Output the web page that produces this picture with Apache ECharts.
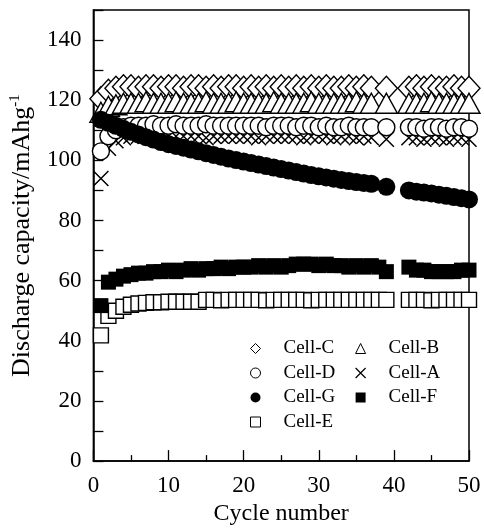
<!DOCTYPE html>
<html>
<head>
<meta charset="utf-8">
<script src="https://cdn.jsdelivr.net/npm/echarts@6/dist/echarts.min.js"></script>
<style>
  html, body { margin: 0; padding: 0; background: #fff; }
  #main { width: 484px; height: 531px; }
</style>
</head>
<body>
<div id="main"></div>
<script>
// cycles 1..50 ; null = no point in the figure
const cycles = [1, 2, 3, 4, 5, 6, 7, 8, 9, 10, 11, 12, 13, 14, 15, 16, 17, 18, 19, 20,
  21, 22, 23, 24, 25, 26, 27, 28, 29, 30, 31, 32, 33, 34, 35, 36, 37, 38, 39, 40,
  41, 42, 43, 44, 45, 46, 47, 48, 49, 50];

const cellC = [120.5, 123, 124, 124.5, 124.5, 124, 124.5, 124.5, 124, 124.5, 124.5, 124, 124.5, 124.5, 124, 124.5, 124, 124.5, 124.5, 124,
  124.5, 124, 124.5, 124, 124.5, 124, 124.5, 124, 124.5, 124, 124.5, 124, 124, 124.5, 124, 124.5, 124, null, 124, null,
  null, 124, 124.5, 124, 124.5, 124, 124, 124.5, 124, 124];
const cellB = [116, 118, 118.5, 119, 119, 119, 119.5, 119, 119, 119, 119.5, 119, 119, 119, 119.5, 119, 119, 119, 119.5, 119,
  119, 119, 119, 119.5, 119, 119, 119, 119, 119.5, 119, 119, 119, 119, 119, 119.5, 119, 119, null, 119, null,
  null, 119, 119, 119, 119.5, 119, 119, 119, 119, 119];
const cellD = [103, 108, 110, 111, 111.5, 111.5, 111.5, 112, 111.5, 111.5, 112, 111.5, 111.5, 111.5, 112, 111.5, 111.5, 111.5, 111.5, 111.5,
  111.5, 111.5, 111, 111.5, 111.5, 111.5, 111, 111.5, 111.5, 111, 111.5, 111, 111, 111.5, 111, 111, 111, null, 111, null,
  null, 111, 111, 110.5, 111, 111, 110.5, 111, 111, 110.5];
const cellA = [94, 104, 106.5, 107.5, 108, 108, 108, 108, 108, 108, 108, 108, 108, 108, 107.5, 108, 108, 108, 108, 108,
  108, 107.5, 108, 108, 108, 108, 108, 107.5, 108, 108, 108, 107.5, 108, 108, 107.5, 108, 107.5, null, 107, null,
  null, 107.5, 107.5, 107, 107.5, 107.5, 107, 107.5, 107.5, 107];
const cellG = [113.5, 112.5, 111.5, 110.5, 109.5, 108.6, 107.7, 106.9, 106.1, 105.4, 104.8, 104.2, 103.6, 103, 102.4, 101.8, 101.2, 100.6, 100.1, 99.6,
  99.1, 98.6, 98.1, 97.6, 97.1, 96.6, 96.1, 95.6, 95.1, 94.7, 94.3, 93.9, 93.5, 93.1, 92.8, 92.5, 92.2, null, 91.2, null,
  null, 90, 89.6, 89.3, 89, 88.6, 88.2, 87.8, 87.4, 87];
const cellF = [51.7, 59.5, 60.5, 61.5, 62, 62.5, 62.5, 63, 63, 63.5, 63, 63.5, 64, 63.5, 64, 64, 64.5, 64, 64.5, 64.5,
  64.5, 65, 64.5, 65, 64.5, 65, 65.5, 65.5, 65.5, 65, 65.5, 65, 65, 64.5, 65, 64.5, 65, 64.5, 63, null,
  null, 64.5, 63.5, 63.5, 63, 63, 63, 63, 63.5, 63.5];
const cellE = [41.8, 48.3, 50, 51.3, 52, 52.4, 52.6, 52.8, 52.8, 53, 53, 53, 53, 53, 53.6, 53.6, 53.5, 53.6, 53.6, 53.6,
  53.6, 53.6, 53.5, 53.6, 53.6, 53.6, 53.6, 53.6, 53.5, 53.6, 53.6, 53.6, 53.6, 53.6, 53.6, 53.6, 53.6, 53.6, 53.6, null,
  null, 53.6, 53.6, 53.6, 53.5, 53.6, 53.6, 53.6, 53.6, 53.6];

const xTicks = [0, 10, 20, 30, 40, 50];
const yTicks = [0, 20, 40, 60, 80, 100, 120, 140];

const FONT = '"Liberation Serif", "Times New Roman", serif';
const CROSS = 'path://M0,0L10,10M10,0L0,10';

function pairs(vals) {
  return cycles.map((c, i) => [c, vals[i]]).filter(p => p[1] != null);
}

const openStyle = { color: '#fff', borderColor: '#000', borderWidth: 1.4, opacity: 1 };
const fillStyle = { color: '#000', borderColor: '#000', borderWidth: 0, opacity: 1 };
const crossStyle = { color: 'transparent', borderColor: '#000', borderWidth: 1.5, opacity: 1 };

// drawing order matters: later markers cover earlier ones
const seriesDefs = [
  { name: 'Cell-C', data: cellC, symbol: 'diamond', size: [22, 24], style: openStyle },
  { name: 'Cell-B', data: cellB, symbol: 'triangle', size: [22, 20], style: openStyle },
  { name: 'Cell-A', data: cellA, symbol: CROSS, size: 15, style: crossStyle },
  { name: 'Cell-D', data: cellD, symbol: 'circle', size: 17, style: openStyle },
  { name: 'Cell-G', data: cellG, symbol: 'circle', size: 18, style: fillStyle },
  { name: 'Cell-E', data: cellE, symbol: 'rect', size: 15, style: openStyle },
  { name: 'Cell-F', data: cellF, symbol: 'rect', size: 15, style: fillStyle }
];

const legendIcon = {
  'Cell-C': { icon: 'diamond', itemStyle: { color: '#fff', borderColor: '#000', borderWidth: 1 } },
  'Cell-D': { icon: 'circle', itemStyle: { color: '#fff', borderColor: '#000', borderWidth: 1 } },
  'Cell-G': { icon: 'circle', itemStyle: { color: '#000', borderColor: '#000', borderWidth: 0 } },
  'Cell-E': { icon: 'rect', itemStyle: { color: '#fff', borderColor: '#000', borderWidth: 1 } },
  'Cell-B': { icon: 'triangle', itemStyle: { color: '#fff', borderColor: '#000', borderWidth: 1 } },
  'Cell-A': { icon: CROSS, itemStyle: { color: 'transparent', borderColor: '#000', borderWidth: 1.2 } },
  'Cell-F': { icon: 'rect', itemStyle: { color: '#000', borderColor: '#000', borderWidth: 0 } }
};

function legendCol(names, left, top) {
  return {
    orient: 'vertical',
    left: left,
    top: top,
    padding: 0,
    itemGap: 5.5,
    itemWidth: 10,
    itemHeight: 10,
    selectedMode: false,
    textStyle: { fontFamily: FONT, fontSize: 19, color: '#000', padding: [0, 0, 0, 18] },
    data: names.map(n => Object.assign({ name: n }, legendIcon[n]))
  };
}

const chart = echarts.init(document.getElementById('main'));
chart.setOption({
  animation: false,
  backgroundColor: '#fff',
  grid: {
    left: 92, right: 15, top: 10, bottom: 66,
    show: true, borderColor: '#000', borderWidth: 1.5
  },
  legend: [
    legendCol(['Cell-C', 'Cell-D', 'Cell-G', 'Cell-E'], 250, 339),
    legendCol(['Cell-B', 'Cell-A', 'Cell-F'], 355, 339)
  ],
  xAxis: {
    type: 'value',
    min: 0, max: 50, interval: 10,
    name: 'Cycle number',
    nameLocation: 'middle',
    nameGap: 40,
    nameTextStyle: { fontFamily: FONT, fontSize: 24, color: '#000' },
    axisLine: { show: true, lineStyle: { color: '#000', width: 1.5 } },
    axisTick: { show: true, inside: true, length: 11, lineStyle: { color: '#000', width: 1.3 } },
    minorTick: { show: true, splitNumber: 2, length: 6, lineStyle: { color: '#000', width: 1.3 } },
    splitLine: { show: false },
    axisLabel: {
      margin: 13, fontFamily: FONT, fontSize: 23, color: '#000',
      formatter: v => (xTicks.indexOf(v) > -1 ? String(v) : '')
    }
  },
  yAxis: {
    type: 'value',
    min: 0, max: 150, interval: 10,
    name: 'Discharge capacity/mAhg{sup|-1}',
    nameLocation: 'middle',
    nameGap: 55,
    nameTextStyle: {
      fontFamily: FONT, fontSize: 26, color: '#000', lineHeight: 28,
      rich: { sup: { fontFamily: FONT, fontSize: 15, color: '#000', verticalAlign: 'top', lineHeight: 28, padding: [0, 0, 12, 0] } }
    },
    axisLine: { show: true, lineStyle: { color: '#000', width: 1.5 } },
    axisTick: { show: true, inside: true, length: 10, lineStyle: { color: '#000', width: 1.3 } },
    splitLine: { show: false },
    axisLabel: {
      margin: 12, fontFamily: FONT, fontSize: 23, color: '#000',
      formatter: v => (yTicks.indexOf(v) > -1 ? String(v) : '')
    }
  },
  series: seriesDefs.map(s => ({
    name: s.name,
    type: 'scatter',
    symbol: s.symbol,
    symbolSize: s.size,
    itemStyle: s.style,
    emphasis: { disabled: true },
    data: pairs(s.data)
  }))
});
</script>
</body>
</html>
